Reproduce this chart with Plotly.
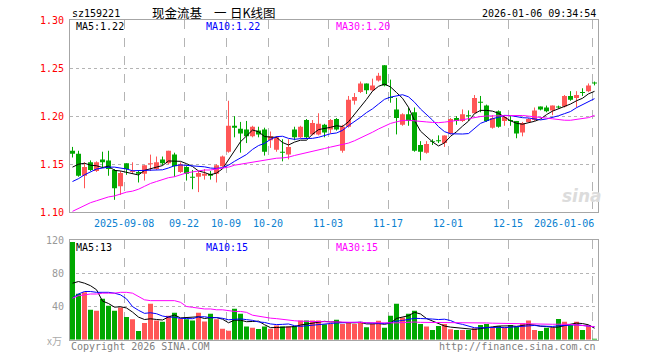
import numpy as np
import plotly.graph_objects as go

# ---------------- data ----------------
opens = [1.164, 1.161, 1.138, 1.152, 1.143, 1.155, 1.154, 1.144, 1.127, 1.151,
         1.142, 1.142, 1.140, 1.150, 1.145, 1.155, 1.151, 1.160, 1.142, 1.147,
         1.137, 1.137, 1.138, 1.140, 1.140, 1.148, 1.163, 1.190, 1.187, 1.186,
         1.179, 1.185, 1.186, 1.175, 1.165, 1.163, 1.160, 1.186, 1.178, 1.196,
         1.181, 1.181, 1.191, 1.186, 1.197, 1.164, 1.189, 1.216, 1.225, 1.234,
         1.227, 1.237, 1.253, 1.220, 1.207, 1.191, 1.202, 1.204, 1.170, 1.162,
         1.174, 1.175, 1.172, 1.182, 1.198, 1.195, 1.201, 1.203, 1.215, 1.211,
         1.188, 1.205, 1.195, 1.196, 1.195, 1.183, 1.194, 1.196, 1.210, 1.209,
         1.206, 1.210, 1.210, 1.221, 1.219, 1.225, 1.226, 1.235]
closes = [1.161, 1.138, 1.147, 1.144, 1.152, 1.152, 1.145, 1.125, 1.141, 1.145,
          1.143, 1.140, 1.149, 1.151, 1.152, 1.151, 1.164, 1.148, 1.150, 1.140,
          1.136, 1.141, 1.140, 1.138, 1.149, 1.158, 1.190, 1.188, 1.182, 1.179,
          1.189, 1.181, 1.163, 1.179, 1.178, 1.162, 1.168, 1.178, 1.189, 1.178,
          1.193, 1.192, 1.183, 1.196, 1.186, 1.189, 1.217, 1.220, 1.234, 1.227,
          1.232, 1.242, 1.232, 1.219, 1.198, 1.202, 1.195, 1.164, 1.163, 1.171,
          1.173, 1.174, 1.180, 1.197, 1.195, 1.202, 1.200, 1.219, 1.214, 1.195,
          1.198, 1.189, 1.199, 1.195, 1.182, 1.193, 1.197, 1.206, 1.207, 1.205,
          1.211, 1.209, 1.221, 1.217, 1.222, 1.224, 1.232, 1.234]
highs = [1.168, 1.164, 1.152, 1.154, 1.153, 1.163, 1.164, 1.145, 1.143, 1.151,
         1.152, 1.143, 1.149, 1.160, 1.158, 1.158, 1.164, 1.162, 1.152, 1.148,
         1.144, 1.143, 1.145, 1.143, 1.150, 1.159, 1.216, 1.200, 1.194, 1.195,
         1.190, 1.189, 1.188, 1.184, 1.179, 1.176, 1.176, 1.189, 1.190, 1.197,
         1.196, 1.203, 1.192, 1.197, 1.198, 1.191, 1.221, 1.224, 1.236, 1.234,
         1.239, 1.245, 1.253, 1.238, 1.219, 1.203, 1.209, 1.209, 1.174, 1.174,
         1.176, 1.180, 1.180, 1.198, 1.200, 1.207, 1.206, 1.222, 1.221, 1.212,
         1.201, 1.206, 1.201, 1.200, 1.195, 1.194, 1.198, 1.209, 1.210, 1.211,
         1.211, 1.211, 1.222, 1.226, 1.226, 1.229, 1.234, 1.236]
lows = [1.157, 1.137, 1.125, 1.143, 1.142, 1.146, 1.138, 1.113, 1.118, 1.139,
        1.140, 1.131, 1.133, 1.143, 1.144, 1.149, 1.150, 1.137, 1.141, 1.133,
        1.124, 1.121, 1.134, 1.134, 1.131, 1.147, 1.162, 1.178, 1.162, 1.172,
        1.178, 1.178, 1.159, 1.167, 1.163, 1.153, 1.155, 1.175, 1.177, 1.176,
        1.180, 1.180, 1.178, 1.182, 1.185, 1.162, 1.188, 1.212, 1.224, 1.223,
        1.226, 1.236, 1.231, 1.214, 1.181, 1.190, 1.190, 1.163, 1.154, 1.161,
        1.170, 1.172, 1.168, 1.181, 1.191, 1.194, 1.195, 1.203, 1.204, 1.194,
        1.187, 1.188, 1.190, 1.190, 1.177, 1.179, 1.193, 1.195, 1.206, 1.204,
        1.201, 1.208, 1.209, 1.216, 1.209, 1.221, 1.225, 1.232]
volumes = [117.6, 55.4, 57.0, 36.0, 34.8, 49.3, 40.8, 34.8, 38.8, 27.2,
           24.7, 10.5, 20.2, 43.3, 23.0, 21.5, 28.7, 32.4, 25.5, 24.7,
           23.0, 32.4, 21.8, 31.2, 24.7, 13.3, 10.9, 37.2, 31.2, 15.8,
           14.5, 13.0, 15.8, 13.3, 17.0, 15.8, 15.8, 16.6, 23.0, 23.0,
           23.0, 23.0, 18.7, 19.0, 23.9, 19.0, 20.6, 19.0, 21.5, 15.0,
           19.0, 22.7, 14.5, 28.7, 43.3, 26.7, 31.2, 34.8, 19.0, 15.8,
           11.8, 16.6, 19.0, 12.6, 11.8, 11.8, 11.8, 13.8, 17.8, 19.0,
           15.0, 16.6, 15.0, 17.8, 15.8, 19.8, 23.0, 11.8, 10.5, 14.5,
           14.5, 25.0, 21.5, 17.4, 21.5, 11.8, 17.4, 1.0]

# moving-average values at the left edge (their windows start before the chart)
ma5_head = [1.147, 1.150, 1.151, 1.149]
ma10_head = [1.132, 1.135, 1.139, 1.142, 1.145, 1.146, 1.147, 1.147, 1.146]
ma30_head = [1.101, 1.104, 1.107, 1.110, 1.112, 1.114, 1.116, 1.117, 1.119, 1.121,
             1.122, 1.124, 1.127, 1.130, 1.132, 1.134, 1.136, 1.137, 1.139, 1.141,
             1.142, 1.143, 1.144, 1.144, 1.145, 1.146, 1.147, 1.149, 1.150]
vma5_head = [68, 70, 68, 65]
vma10_head = [50, 55, 58, 58, 57, 57, 57, 56, 54]
vma30_head = [50, 53, 54, 55, 55, 56, 56, 56, 57, 57, 56, 52, 48, 47, 47, 47, 47, 47, 45,
              40, 39, 38, 37, 37, 36, 36, 35, 34, 34]

tick_idx = [9, 19, 26, 33, 43, 53, 63, 73, 87]
tick_labels = ["2025-09-08", "09-22", "10-09", "10-20", "11-03", "11-17",
               "12-01", "12-15", "2026-01-06"]
price_ticks = [1.10, 1.15, 1.20, 1.25, 1.30]
vol_ticks = [40, 80, 120]
price_ma_text = ["MA5:1.22", "MA10:1.22", "MA30:1.20"]
vol_ma_text = ["MA5:13", "MA10:15", "MA30:15"]

# ---------------- styling ----------------
W, H = 660, 360
RED, GREEN = "#ff5757", "#00a800"
MA_COLORS = ["#000000", "#0000ff", "#ff00ff"]
MONO = "DejaVu Sans Mono"
CJK = "Noto Sans CJK SC"
GRID = "#b4b4b4"
FRAME = "#a6a6a6"

def px(x):
    return x / W

def py(y):
    return 1 - y / H

n = len(closes)
idx = np.arange(n)
up = [c >= o for o, c in zip(opens, closes)]
cols = [RED if u else GREEN for u in up]

def sma(a, k, head):
    a = np.asarray(a, float)
    out = np.full(len(a), np.nan)
    for i in range(k - 1, len(a)):
        out[i] = a[i - k + 1:i + 1].mean()
    out[:k - 1] = head
    return out

ma = [sma(closes, 5, ma5_head), sma(closes, 10, ma10_head), sma(closes, 30, ma30_head)]
vma = [sma(volumes, 5, vma5_head), sma(volumes, 10, vma10_head), sma(volumes, 30, vma30_head)]

fig = go.Figure()

# wicks
for colr, flag in [(RED, True), (GREEN, False)]:
    xs, ys = [], []
    for i in range(n):
        if up[i] == flag:
            xs += [i, i, None]
            ys += [lows[i], highs[i], None]
    fig.add_trace(go.Scatter(x=xs, y=ys, mode="lines", line=dict(color=colr, width=1),
                             hoverinfo="skip", xaxis="x", yaxis="y"))

# bodies
body_base = [min(o, c) for o, c in zip(opens, closes)]
body_h = [max(abs(c - o), 0.0009) for o, c in zip(opens, closes)]
fig.add_trace(go.Bar(x=idx, y=body_h, base=body_base, width=5 / 6,
                     marker=dict(color=cols, line=dict(width=0)),
                     hoverinfo="skip", xaxis="x", yaxis="y"))

for m, c in zip(ma, MA_COLORS):
    fig.add_trace(go.Scatter(x=idx, y=m, mode="lines", line=dict(color=c, width=1),
                             hoverinfo="skip", xaxis="x", yaxis="y"))

# volume
fig.add_trace(go.Bar(x=idx, y=volumes, width=5 / 6,
                     marker=dict(color=cols, line=dict(width=0)),
                     hoverinfo="skip", xaxis="x2", yaxis="y2"))
for m, c in zip(vma, MA_COLORS):
    fig.add_trace(go.Scatter(x=idx, y=m, mode="lines", line=dict(color=c, width=1),
                             hoverinfo="skip", xaxis="x2", yaxis="y2"))

xr = [-5 / 12, n - 5 / 12]
grid_x = [i - 5 / 12 for i in tick_idx]
xdom = [px(70), px(598)]
axis_common = dict(showline=True, mirror=True, linecolor=FRAME, linewidth=1,
                   zeroline=False, ticks="", showticklabels=False, fixedrange=True)

fig.update_layout(
    width=W, height=H, margin=dict(l=0, r=0, t=0, b=0),
    paper_bgcolor="white", plot_bgcolor="white",
    showlegend=False, barmode="overlay", hovermode=False,
    xaxis=dict(domain=xdom, range=xr, anchor="y", tickvals=grid_x, showgrid=True,
               gridcolor=GRID, griddash="dash", gridwidth=1, **axis_common),
    yaxis=dict(domain=[py(212.3), py(20)], range=[1.10, 1.30], anchor="x",
               tickvals=[1.15, 1.20, 1.25], showgrid=True, gridcolor=GRID,
               griddash="dot", gridwidth=1, **axis_common),
    xaxis2=dict(domain=xdom, range=xr, anchor="y2", tickvals=grid_x, showgrid=True,
                gridcolor=GRID, griddash="dash", gridwidth=1, **axis_common),
    yaxis2=dict(domain=[py(339.7), py(240)], range=[0, 120], anchor="x2",
                tickvals=[40, 80], showgrid=True, gridcolor=GRID,
                griddash="dot", gridwidth=1, **axis_common),
)

ann = []
def text(x, y, s, color="#000000", size=10, family=MONO, xanchor="left", xref="paper",
         yref="paper"):
    ann.append(dict(x=x, y=y, xref=xref, yref=yref, text=s, showarrow=False,
                    xanchor=xanchor, yanchor="middle",
                    font=dict(family=family, size=size, color=color)))

# header
text(px(70), py(13.5), "sz159221")
text(px(150), py(13), "现金流基", family=CJK, size=12.5)
text(px(220), py(13), "一", family=CJK, size=12.5, xanchor="center")
text(px(278), py(13), "日K线图", family=CJK, size=12.5, xanchor="right")
text(px(598), py(13.5), "2026-01-06 09:34:54", xanchor="right")

# axis labels
for v in price_ticks:
    text(px(66), v, f"{v:.2f}", color="#ff0000", xanchor="right", yref="y")
for v in vol_ticks:
    text(px(66), v, str(v), color="#999999", xanchor="right", yref="y2")
text(px(64), py(340), "x万", color="#aaaaaa", xanchor="right", family=CJK, size=10)

for i, lab in zip(tick_idx, tick_labels):
    if i == tick_idx[-1]:
        text(px(596), py(223), lab, color="#0a7fd0", xanchor="right")
    else:
        text(i - 5 / 12, py(223), lab, color="#0a7fd0", xanchor="center", xref="x")

# MA legends
for s, c, x in zip(price_ma_text, MA_COLORS, [74, 204, 334]):
    text(px(x), py(27), s, color=c)
for s, c, x in zip(vol_ma_text, MA_COLORS, [74, 204, 334]):
    text(px(x), py(247), s, color=c)

# footer
text(px(69), py(346), "Copyright 2026 SINA.COM", color="#808080")
text(px(598), py(346), "http://finance.sina.com.cn", color="#808080", xanchor="right")

# watermark
text(px(582), py(196), "<b><i>sina</i></b>", color="#dcdcdc", size=17,
     family="DejaVu Sans", xanchor="center")

fig.update_layout(annotations=ann)
fig.write_html("out.html",
               config={"displayModeBar": False, "staticPlot": True},
               post_script="document.body.style.margin='0';document.body.style.overflow='hidden';")
